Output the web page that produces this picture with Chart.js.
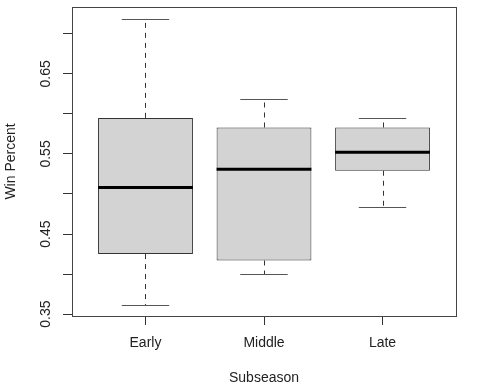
<!DOCTYPE html>
<html>
<head>
<meta charset="utf-8">
<script src="https://cdn.jsdelivr.net/npm/chart.js@4/dist/chart.umd.min.js"></script>
<style>
  html, body { margin: 0; padding: 0; background: #fff; }
</style>
</head>
<body>
<canvas id="boxChart" width="494" height="390"></canvas>
<script>
"use strict";

// Data
var categories = ["Early", "Middle", "Late"];
var positions = [1, 2, 3];
var whiskerLow = [0.361, 0.400, 0.484];
var q1 = [0.425, 0.417, 0.529];
var median = [0.508, 0.531, 0.552];
var q3 = [0.595, 0.583, 0.583];
var whiskerHigh = [0.718, 0.619, 0.595];

var yTicks = [0.35, 0.40, 0.45, 0.50, 0.55, 0.60, 0.65, 0.70];
var yTickLabels = ["0.35", "", "0.45", "", "0.55", "", "0.65", ""];
var yMin = 0.3477;
var yMax = 0.7334;
var xMin = 0.38;
var xMax = 3.62;

var textColor = "#222";
var lineColor = "#333";
var fontFamily = "'Liberation Sans', Arial, sans-serif";

// Whiskers, caps, medians and the frame
var boxplotPlugin = {
    id: "boxplotExtras",
    afterDatasetsDraw: function (chart) {
        var ctx = chart.ctx;
        var x = chart.scales.x;
        var y = chart.scales.y;
        var area = chart.chartArea;

        ctx.save();
        for (let i = 0; i < categories.length; i++) {
            var cx = Math.round(x.getPixelForValue(positions[i])) + 0.5;
            var capL = x.getPixelForValue(positions[i] - 0.2);
            var capR = x.getPixelForValue(positions[i] + 0.2);
            var boxL = x.getPixelForValue(positions[i] - 0.4);
            var boxR = x.getPixelForValue(positions[i] + 0.4);

            // dashed whiskers
            ctx.strokeStyle = lineColor;
            ctx.lineWidth = 1;
            ctx.setLineDash([5, 5]);
            ctx.beginPath();
            ctx.moveTo(cx, y.getPixelForValue(q3[i]));
            ctx.lineTo(cx, y.getPixelForValue(whiskerHigh[i]));
            ctx.moveTo(cx, y.getPixelForValue(q1[i]));
            ctx.lineTo(cx, y.getPixelForValue(whiskerLow[i]));
            ctx.stroke();

            // caps
            ctx.setLineDash([]);
            ctx.strokeStyle = "#555";
            ctx.beginPath();
            var yh = Math.round(y.getPixelForValue(whiskerHigh[i])) + 0.5;
            var yl = Math.round(y.getPixelForValue(whiskerLow[i])) + 0.5;
            ctx.moveTo(capL, yh);
            ctx.lineTo(capR, yh);
            ctx.moveTo(capL, yl);
            ctx.lineTo(capR, yl);
            ctx.stroke();

            // median
            ctx.strokeStyle = "#000";
            ctx.lineWidth = 3;
            ctx.beginPath();
            var ym = y.getPixelForValue(median[i]);
            ctx.moveTo(boxL, ym);
            ctx.lineTo(boxR, ym);
            ctx.stroke();
        }

        // frame around the plot
        ctx.strokeStyle = "#444";
        ctx.lineWidth = 1;
        ctx.strokeRect(Math.round(area.left) + 0.5, Math.round(area.top) + 0.5,
            Math.round(area.right - area.left), Math.round(area.bottom - area.top));
        ctx.restore();
    }
};

window.onload = function () {
    var boxes = [];
    for (let i = 0; i < categories.length; i++) {
        boxes.push({ x: positions[i], y: [q1[i], q3[i]] });
    }

    var config = {
        type: "bar",
        data: {
            datasets: [{
                data: boxes,
                backgroundColor: "#d3d3d3",
                borderColor: lineColor,
                borderWidth: 1,
                borderSkipped: false,
                categoryPercentage: 1,
                barPercentage: 0.8
            }]
        },
        options: {
            responsive: false,
            animation: false,
            events: [],
            layout: {
                padding: { top: 7, right: 38, left: 0, bottom: 0 }
            },
            plugins: {
                legend: { display: false },
                tooltip: { enabled: false }
            },
            scales: {
                x: {
                    type: "linear",
                    min: xMin,
                    max: xMax,
                    offset: false,
                    grid: {
                        offset: false,
                        drawOnChartArea: false,
                        drawTicks: true,
                        tickLength: 9,
                        color: lineColor
                    },
                    border: { display: true, color: lineColor, width: 1 },
                    afterBuildTicks: function (scale) {
                        scale.ticks = positions.map(function (v) { return { value: v }; });
                    },
                    afterFit: function (scale) {
                        scale.height = 74;
                        scale.paddingLeft = 0;
                        scale.paddingRight = 0;
                    },
                    ticks: {
                        autoSkip: false,
                        maxRotation: 0,
                        padding: 10,
                        color: textColor,
                        font: { family: fontFamily, size: 14 },
                        callback: function (value) {
                            var idx = positions.indexOf(value);
                            return idx >= 0 ? categories[idx] : "";
                        }
                    },
                    title: {
                        display: true,
                        text: "Subseason",
                        color: textColor,
                        padding: { top: 0, bottom: 3 },
                        font: { family: fontFamily, size: 14 }
                    }
                },
                y: {
                    min: yMin,
                    max: yMax,
                    grid: {
                        drawOnChartArea: false,
                        drawTicks: true,
                        tickLength: 9,
                        color: lineColor
                    },
                    border: { display: true, color: lineColor, width: 1 },
                    afterBuildTicks: function (scale) {
                        scale.ticks = yTicks.map(function (v) { return { value: v }; });
                    },
                    afterFit: function (scale) {
                        scale.width = 72;
                        scale.paddingTop = 0;
                        scale.paddingBottom = 0;
                    },
                    ticks: {
                        autoSkip: false,
                        minRotation: 90,
                        maxRotation: 90,
                        crossAlign: "center",
                        padding: 3,
                        color: textColor,
                        font: { family: fontFamily, size: 14 },
                        callback: function (value) {
                            var idx = yTicks.findIndex(function (t) { return Math.abs(t - value) < 1e-9; });
                            return idx >= 0 ? yTickLabels[idx] : "";
                        }
                    },
                    title: {
                        display: true,
                        text: "Win Percent",
                        color: textColor,
                        padding: { top: 3, bottom: 0 },
                        font: { family: fontFamily, size: 14 }
                    }
                }
            }
        },
        plugins: [boxplotPlugin]
    };

    var ctx = document.getElementById("boxChart").getContext("2d");
    new Chart(ctx, config);
};
</script>
</body>
</html>
